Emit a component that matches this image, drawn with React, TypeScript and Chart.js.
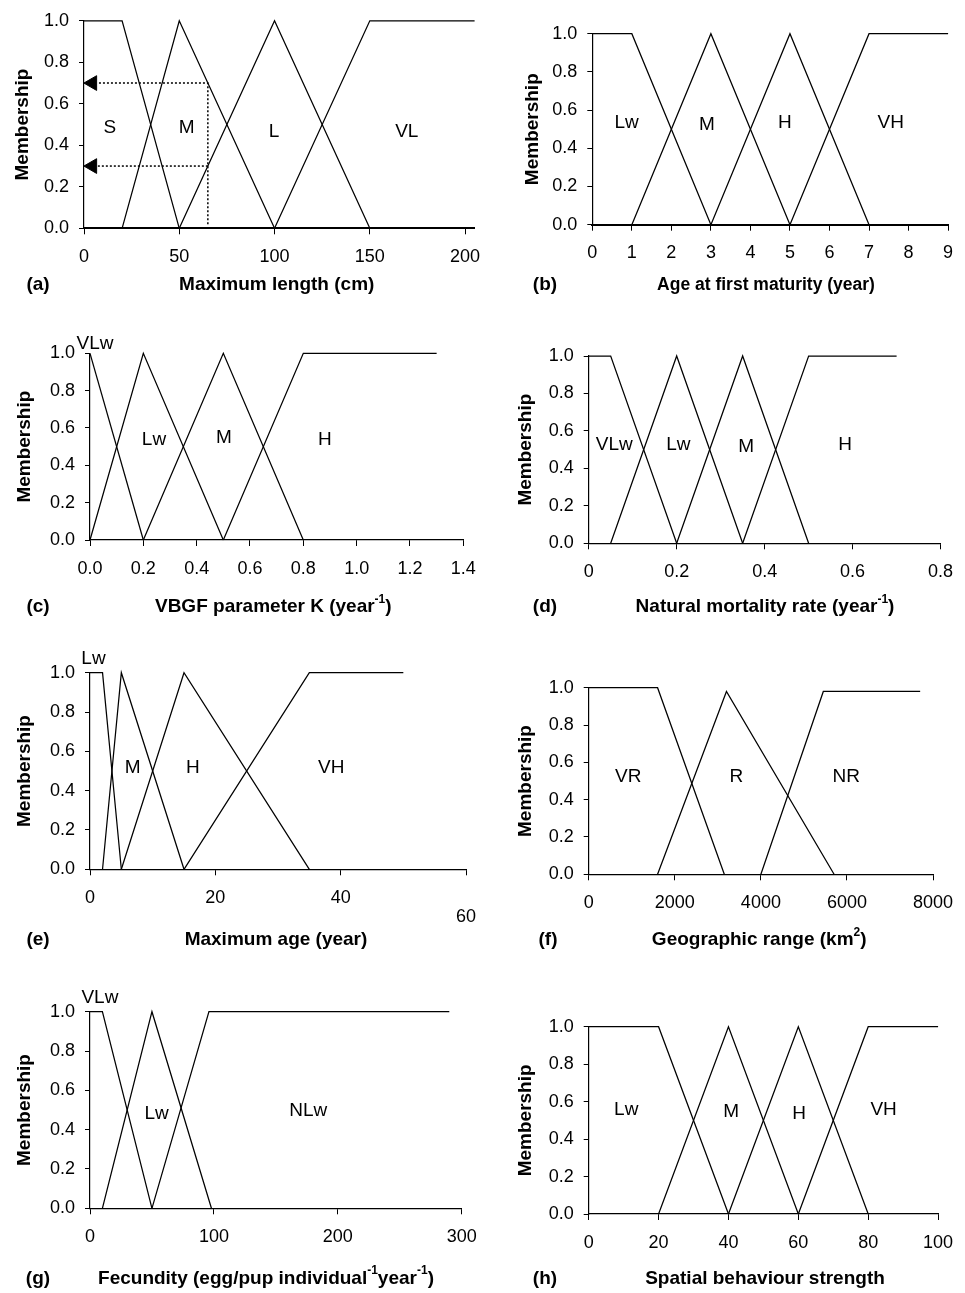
import React, { useEffect, useRef } from 'react';
import { Chart, registerables } from 'chart.js';

Chart.register(...registerables);

const W = 965;
const H = 1293;
const FONT = '"Liberation Sans", Arial, Helvetica, sans-serif';

// ---------- shared y axis ----------
const Y_TICKS = [0, 0.2, 0.4, 0.6, 0.8, 1.0];
const Y_TICK_LABELS = ['0.0', '0.2', '0.4', '0.6', '0.8', '1.0'];

// ---------- (a) Maximum length ----------
const A_X_TICKS = [0, 50, 100, 150, 200];
const A_X_LABELS = ['0', '50', '100', '150', '200'];
const A_NAMES = ['S', 'M', 'L', 'VL'];
const A_S = [[0, 1], [20, 1], [50, 0]];
const A_M = [[20, 0], [50, 1], [100, 0]];
const A_L = [[50, 0], [100, 1], [150, 0]];
const A_VL = [[100, 0], [150, 1], [205, 1]];
const A_LOOKUP_HIGH = [[65, 0.02], [65, 0.7], [7, 0.7]];
const A_LOOKUP_LOW = [[65, 0.3], [7, 0.3]];
const A_ARROWS = [[4.4, 0.7], [4.4, 0.3]];

// ---------- (b) Age at first maturity ----------
const B_X_TICKS = [0, 1, 2, 3, 4, 5, 6, 7, 8, 9];
const B_X_LABELS = ['0', '1', '2', '3', '4', '5', '6', '7', '8', '9'];
const B_NAMES = ['Lw', 'M', 'H', 'VH'];
const B_LW = [[0, 1], [1, 1], [3, 0]];
const B_M = [[1, 0], [3, 1], [5, 0]];
const B_H = [[3, 0], [5, 1], [7, 0]];
const B_VH = [[5, 0], [7, 1], [9, 1]];

// ---------- (c) VBGF parameter K ----------
const C_X_TICKS = [0, 0.2, 0.4, 0.6, 0.8, 1.0, 1.2, 1.4];
const C_X_LABELS = ['0.0', '0.2', '0.4', '0.6', '0.8', '1.0', '1.2', '1.4'];
const C_NAMES = ['VLw', 'Lw', 'M', 'H'];
const C_VLW = [[0, 1], [0.2, 0]];
const C_LW = [[0, 0], [0.2, 1], [0.5, 0]];
const C_M = [[0.2, 0], [0.5, 1], [0.8, 0]];
const C_H = [[0.5, 0], [0.8, 1], [1.3, 1]];

// ---------- (d) Natural mortality rate ----------
const D_X_TICKS = [0, 0.2, 0.4, 0.6, 0.8];
const D_X_LABELS = ['0', '0.2', '0.4', '0.6', '0.8'];
const D_NAMES = ['VLw', 'Lw', 'M', 'H'];
const D_VLW = [[0, 1], [0.05, 1], [0.2, 0]];
const D_LW = [[0.05, 0], [0.2, 1], [0.35, 0]];
const D_M = [[0.2, 0], [0.35, 1], [0.5, 0]];
const D_H = [[0.35, 0], [0.5, 1], [0.7, 1]];

// ---------- (e) Maximum age ----------
const E_X_TICKS = [0, 20, 40, 60];
const E_X_LABELS: (string | string[])[] = ['0', '20', '40', ['', '60']];
const E_NAMES = ['Lw', 'M', 'H', 'VH'];
const E_LW = [[0, 1], [2, 1], [5, 0]];
const E_M = [[2, 0], [5, 1], [15, 0]];
const E_H = [[5, 0], [15, 1], [35, 0]];
const E_VH = [[15, 0], [35, 1], [50, 1]];

// ---------- (f) Geographic range ----------
const F_X_TICKS = [0, 2000, 4000, 6000, 8000];
const F_X_LABELS = ['0', '2000', '4000', '6000', '8000'];
const F_NAMES = ['VR', 'R', 'NR'];
const F_VR = [[0, 1], [1600, 1], [3150, 0]];
const F_R = [[1600, 0], [3200, 0.98], [5700, 0]];
const F_NR = [[4000, 0], [5450, 0.98], [7700, 0.98]];

// ---------- (g) Fecundity ----------
const G_X_TICKS = [0, 100, 200, 300];
const G_X_LABELS = ['0', '100', '200', '300'];
const G_NAMES = ['VLw', 'Lw', 'NLw'];
const G_VLW = [[0, 1], [10, 1], [50, 0]];
const G_LW = [[10, 0], [50, 1], [98, 0]];
const G_NLW = [[50, 0], [96, 1], [290, 1]];

// ---------- (h) Spatial behaviour strength ----------
const H_X_TICKS = [0, 20, 40, 60, 80, 100];
const H_X_LABELS = ['0', '20', '40', '60', '80', '100'];
const H_NAMES = ['Lw', 'M', 'H', 'VH'];
const H_LW = [[0, 1], [20, 1], [40, 0]];
const H_M = [[20, 0], [40, 1], [60, 0]];
const H_H = [[40, 0], [60, 1], [80, 0]];
const H_VH = [[60, 0], [80, 1], [100, 1]];

type Seg = { t: string; sup?: boolean };
type Panel = {
  letter: string;
  plot: { left: number; right: number; top: number; bottom: number };
  xMax: number;
  xTicks: number[];
  xLabels: (string | string[])[];
  xLabelLineHeight?: number;
  xLabelPad?: number;
  series: number[][][];
  names: string[];
  nameAt: number[][];
  title: Seg[];
  titleAt: number[];
  titleSize?: number;
  letterAt: number[];
  yTitleX: number;
  axisWidth: number;
  lookupLines?: number[][][];
  arrows?: number[][];
};

const PANELS: Panel[] = [
  {
    letter: '(a)',
    plot: { left: 84, right: 474.6, top: 15.3, bottom: 228.3 },
    xMax: 205, xTicks: A_X_TICKS, xLabels: A_X_LABELS,
    series: [A_S, A_M, A_L, A_VL], names: A_NAMES,
    nameAt: [[13.6, 0.485], [53.9, 0.485], [99.7, 0.465], [169.4, 0.465]],
    title: [{ t: 'Maximum length (cm)' }], titleAt: [276.7, 285], letterAt: [38, 285],
    yTitleX: 22.5, axisWidth: 2,
    lookupLines: [A_LOOKUP_HIGH, A_LOOKUP_LOW], arrows: A_ARROWS,
  },
  {
    letter: '(b)',
    plot: { left: 592.3, right: 948.3, top: 33.7, bottom: 224.7 },
    xMax: 9, xTicks: B_X_TICKS, xLabels: B_X_LABELS,
    series: [B_LW, B_M, B_H, B_VH], names: B_NAMES,
    nameAt: [[0.87, 0.532], [2.9, 0.522], [4.87, 0.532], [7.55, 0.532]],
    title: [{ t: 'Age at first maturity (year)' }], titleAt: [766, 285], titleSize: 17.5, letterAt: [545, 285],
    yTitleX: 532.5, axisWidth: 2,
  },
  {
    letter: '(c)',
    plot: { left: 90, right: 463.3, top: 353.3, bottom: 540 },
    xMax: 1.4, xTicks: C_X_TICKS, xLabels: C_X_LABELS,
    series: [C_VLW, C_LW, C_M, C_H], names: C_NAMES,
    nameAt: [[0.019, 1.05], [0.24, 0.536], [0.502, 0.546], [0.881, 0.536]],
    title: [{ t: 'VBGF parameter K (year' }, { t: '-1', sup: true }, { t: ')' }],
    titleAt: [273.3, 606.7], letterAt: [38, 606.7],
    yTitleX: 25, axisWidth: 1.2,
  },
  {
    letter: '(d)',
    plot: { left: 588.7, right: 949.3, top: 356, bottom: 543.3 },
    xMax: 0.8, xTicks: D_X_TICKS, xLabels: D_X_LABELS,
    series: [D_VLW, D_LW, D_M, D_H], names: D_NAMES,
    nameAt: [[0.058, 0.525], [0.204, 0.525], [0.358, 0.514], [0.583, 0.525]],
    title: [{ t: 'Natural mortality rate (year' }, { t: '-1', sup: true }, { t: ')' }],
    titleAt: [765, 606.7], letterAt: [545, 606.7],
    yTitleX: 525.8, axisWidth: 1.2,
  },
  {
    letter: '(e)',
    plot: { left: 90, right: 466, top: 672.7, bottom: 869.3 },
    xMax: 60, xTicks: E_X_TICKS, xLabels: E_X_LABELS, xLabelLineHeight: 1.03, xLabelPad: 13.7,
    series: [E_LW, E_M, E_H, E_VH], names: E_NAMES,
    nameAt: [[0.56, 1.07], [6.8, 0.515], [16.4, 0.515], [38.5, 0.515]],
    title: [{ t: 'Maximum age (year)' }], titleAt: [276, 940], letterAt: [38, 940],
    yTitleX: 25, axisWidth: 1.2,
  },
  {
    letter: '(f)',
    plot: { left: 588.7, right: 941.7, top: 687.7, bottom: 874.3 },
    xMax: 8000, xTicks: F_X_TICKS, xLabels: F_X_LABELS,
    series: [F_VR, F_R, F_NR], names: F_NAMES,
    nameAt: [[920, 0.523], [3428, 0.523], [5982, 0.523]],
    title: [{ t: 'Geographic range (km' }, { t: '2', sup: true }, { t: ')' }],
    titleAt: [759.2, 940], letterAt: [548, 940],
    yTitleX: 525.8, axisWidth: 1.2,
  },
  {
    letter: '(g)',
    plot: { left: 90, right: 461.7, top: 1011.7, bottom: 1208.3 },
    xMax: 300, xTicks: G_X_TICKS, xLabels: G_X_LABELS,
    series: [G_VLW, G_LW, G_NLW], names: G_NAMES,
    nameAt: [[8, 1.07], [53.8, 0.48], [176.2, 0.496]],
    title: [{ t: 'Fecundity (egg/pup individual' }, { t: '-1', sup: true }, { t: 'year' }, { t: '-1', sup: true }, { t: ')' }],
    titleAt: [266, 1278.3], letterAt: [38, 1278.3],
    yTitleX: 25, axisWidth: 1.2,
  },
  {
    letter: '(h)',
    plot: { left: 588.7, right: 947.7, top: 1026.7, bottom: 1214 },
    xMax: 100, xTicks: H_X_TICKS, xLabels: H_X_LABELS,
    series: [H_LW, H_M, H_H, H_VH], names: H_NAMES,
    nameAt: [[10.75, 0.555], [40.75, 0.546], [60.25, 0.534], [84.4, 0.555]],
    title: [{ t: 'Spatial behaviour strength' }], titleAt: [765, 1278.3], letterAt: [545, 1278.3],
    yTitleX: 525.8, axisWidth: 1.2,
  },
];

const X_AXIS_HEIGHT = 62;
const TICK_SIZE = 18;
const NAME_SIZE = 19;
const Y_TITLE_SIZE = 19;
const Y_TITLE_LH = Y_TITLE_SIZE * 1.2;

function makeAnnotPlugin(p: Panel) {
  return {
    id: 'annot' + p.letter,
    afterDraw(chart: any) {
      const ctx = chart.ctx as CanvasRenderingContext2D;
      const xs = chart.scales.x;
      const ys = chart.scales.y;
      ctx.save();
      ctx.fillStyle = '#000';
      // category names
      ctx.font = `${NAME_SIZE}px ${FONT}`;
      ctx.textAlign = 'center';
      ctx.textBaseline = 'middle';
      p.names.forEach((n, i) => {
        const at = p.nameAt[i];
        ctx.fillText(n, xs.getPixelForValue(at[0]), ys.getPixelForValue(at[1]));
      });
      // x title with superscripts
      const size = p.titleSize ?? 19;
      const supSize = Math.round(size * 0.62);
      const fontFor = (s: Seg) => `bold ${s.sup ? supSize : size}px ${FONT}`;
      let total = 0;
      p.title.forEach((s) => {
        ctx.font = fontFor(s);
        total += ctx.measureText(s.t).width;
      });
      let cx = p.titleAt[0] - total / 2;
      ctx.textAlign = 'left';
      p.title.forEach((s) => {
        ctx.font = fontFor(s);
        ctx.fillText(s.t, cx, p.titleAt[1] + (s.sup ? -size * 0.38 : 0));
        cx += ctx.measureText(s.t).width;
      });
      // panel letter
      ctx.font = `bold 19px ${FONT}`;
      ctx.textAlign = 'center';
      ctx.fillText(p.letter, p.letterAt[0], p.letterAt[1]);
      ctx.restore();
    },
  };
}

function buildConfig(p: Panel): any {
  const padLeft = p.yTitleX - Y_TITLE_LH / 2;
  const yWidth = p.plot.left - padLeft;
  const datasets: any[] = p.series.map((s, i) => ({
    label: p.names[i],
    data: s.map(([x, y]) => ({ x, y })),
    showLine: true,
    borderColor: '#000',
    borderWidth: 1.25,
    pointRadius: 0,
    fill: false,
    tension: 0,
    clip: false,
  }));
  (p.lookupLines || []).forEach((ln, i) => {
    datasets.push({
      label: 'lookup' + i,
      data: ln.map(([x, y]) => ({ x, y })),
      showLine: true,
      borderColor: '#000',
      borderWidth: 1.5,
      borderDash: [2, 2],
      pointRadius: 0,
      fill: false,
      clip: false,
    });
  });
  if (p.arrows) {
    datasets.push({
      label: 'arrows',
      data: p.arrows.map(([x, y]) => ({ x, y })),
      showLine: false,
      pointStyle: 'triangle',
      rotation: 270,
      pointRadius: 8.5,
      pointBackgroundColor: '#000',
      pointBorderColor: '#000',
      pointBorderWidth: 1,
      clip: false,
    });
  }
  return {
    type: 'scatter',
    data: { datasets },
    options: {
      responsive: false,
      animation: false,
      devicePixelRatio: 1,
      events: [],
      layout: {
        padding: {
          left: padLeft,
          right: W - p.plot.right,
          top: p.plot.top,
          bottom: H - p.plot.bottom - X_AXIS_HEIGHT,
        },
      },
      plugins: {
        legend: { display: false },
        tooltip: { enabled: false },
        title: { display: false },
      },
      scales: {
        x: {
          type: 'linear',
          min: 0,
          max: p.xMax,
          afterBuildTicks: (axis: any) => {
            axis.ticks = p.xTicks.map((v) => ({ value: v }));
          },
          afterFit: (scale: any) => {
            scale.height = X_AXIS_HEIGHT;
          },
          ticks: {
            autoSkip: false,
            maxRotation: 0,
            minRotation: 0,
            padding: p.xLabelPad ?? 11.9,
            color: '#000',
            font: { family: FONT, size: TICK_SIZE, lineHeight: p.xLabelLineHeight ?? 1.2 },
            callback: (_v: any, i: number) => p.xLabels[i],
          },
          grid: {
            display: true,
            drawOnChartArea: false,
            drawTicks: true,
            tickLength: 6,
            color: '#000',
            lineWidth: 1,
          },
          border: { display: true, color: '#000', width: p.axisWidth },
        },
        y: {
          type: 'linear',
          min: 0,
          max: 1,
          afterBuildTicks: (axis: any) => {
            axis.ticks = Y_TICKS.map((v) => ({ value: v }));
          },
          afterFit: (scale: any) => {
            scale.width = yWidth;
          },
          ticks: {
            padding: 10,
            color: '#000',
            font: { family: FONT, size: TICK_SIZE },
            callback: (_v: any, i: number) => Y_TICK_LABELS[i],
          },
          grid: {
            display: true,
            drawOnChartArea: false,
            drawTicks: true,
            tickLength: 5,
            color: '#000',
            lineWidth: 1,
          },
          border: { display: true, color: '#000', width: 1.2 },
          title: {
            display: true,
            text: 'Membership',
            color: '#000',
            padding: { top: 0, bottom: 0 },
            font: { family: FONT, size: Y_TITLE_SIZE, weight: 'bold', lineHeight: 1.2 },
          },
        },
      },
    },
    plugins: [makeAnnotPlugin(p)],
  };
}

function PanelCanvas({ panel }: { panel: Panel }) {
  const ref = useRef<HTMLCanvasElement | null>(null);
  useEffect(() => {
    if (!ref.current) return;
    const chart = new Chart(ref.current, buildConfig(panel));
    return () => chart.destroy();
  }, [panel]);
  return (
    <canvas
      ref={ref}
      width={W}
      height={H}
      style={{ position: 'absolute', left: 0, top: 0, width: W, height: H }}
    />
  );
}

export default function App() {
  return (
    <div
      style={{
        position: 'absolute',
        left: 0,
        top: 0,
        width: W,
        height: H,
        background: '#fff',
        overflow: 'hidden',
      }}
    >
      {PANELS.map((p) => (
        <PanelCanvas key={p.letter} panel={p} />
      ))}
    </div>
  );
}
